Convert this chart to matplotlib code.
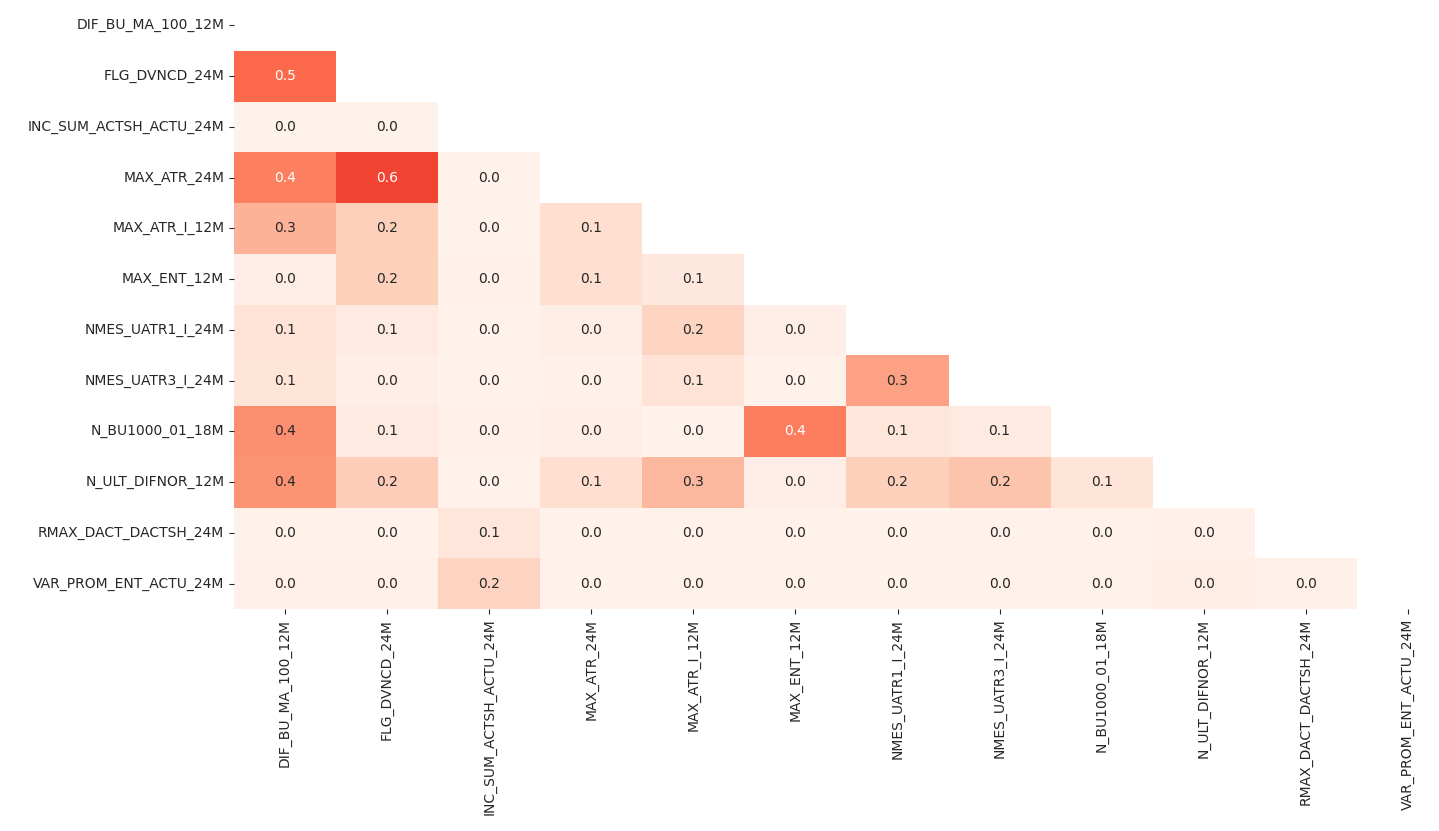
import numpy as np
import pandas as pd
import matplotlib
matplotlib.use("Agg")
import matplotlib.pyplot as plt
import seaborn as sns

labels = ["DIF_BU_MA_100_12M", "FLG_DVNCD_24M", "INC_SUM_ACTSH_ACTU_24M", "MAX_ATR_24M",
          "MAX_ATR_I_12M", "MAX_ENT_12M", "NMES_UATR1_I_24M", "NMES_UATR3_I_24M",
          "N_BU1000_01_18M", "N_ULT_DIFNOR_12M", "RMAX_DACT_DACTSH_24M", "VAR_PROM_ENT_ACTU_24M"]

row_flg = [0.50]
row_inc = [0.02, 0.02]
row_max_atr = [0.43, 0.60, 0.02]
row_max_atr_i = [0.28, 0.18, 0.02, 0.13]
row_max_ent = [0.04, 0.18, 0.03, 0.13, 0.08]
row_nmes1 = [0.11, 0.07, 0.02, 0.045, 0.17, 0.04]
row_nmes3 = [0.10, 0.04, 0.02, 0.03, 0.11, 0.02, 0.33]
row_nbu = [0.385, 0.07, 0.03, 0.04, 0.02, 0.44, 0.09, 0.07]
row_nult = [0.37, 0.19, 0.02, 0.13, 0.26, 0.04, 0.18, 0.22, 0.10]
row_rmax = [0.02, 0.02, 0.09, 0.02, 0.02, 0.02, 0.02, 0.02, 0.02, 0.03]
row_var = [0.03, 0.03, 0.17, 0.02, 0.02, 0.02, 0.02, 0.02, 0.02, 0.045, 0.03]

rows = [[], row_flg, row_inc, row_max_atr, row_max_atr_i, row_max_ent, row_nmes1,
        row_nmes3, row_nbu, row_nult, row_rmax, row_var]

n = len(labels)
M = np.eye(n)
for i, r in enumerate(rows):
    for j, v in enumerate(r):
        M[i, j] = v
        M[j, i] = v
df = pd.DataFrame(M, index=labels, columns=labels)
mask = np.triu(np.ones_like(M, dtype=bool))

plt.rcParams['text.color'] = '#262626'
plt.rcParams['xtick.color'] = '#262626'
plt.rcParams['ytick.color'] = '#262626'

fig = plt.figure(figsize=(14.39, 8.31), dpi=100)
ax = fig.add_axes([234/1439, (831-609)/831, 1225/1439, 609/831])
sns.heatmap(df, mask=mask, cmap="Reds", vmin=0, vmax=1, annot=True, fmt=".1f",
            cbar=False, ax=ax)
fig.savefig("out.png", dpi=100)
